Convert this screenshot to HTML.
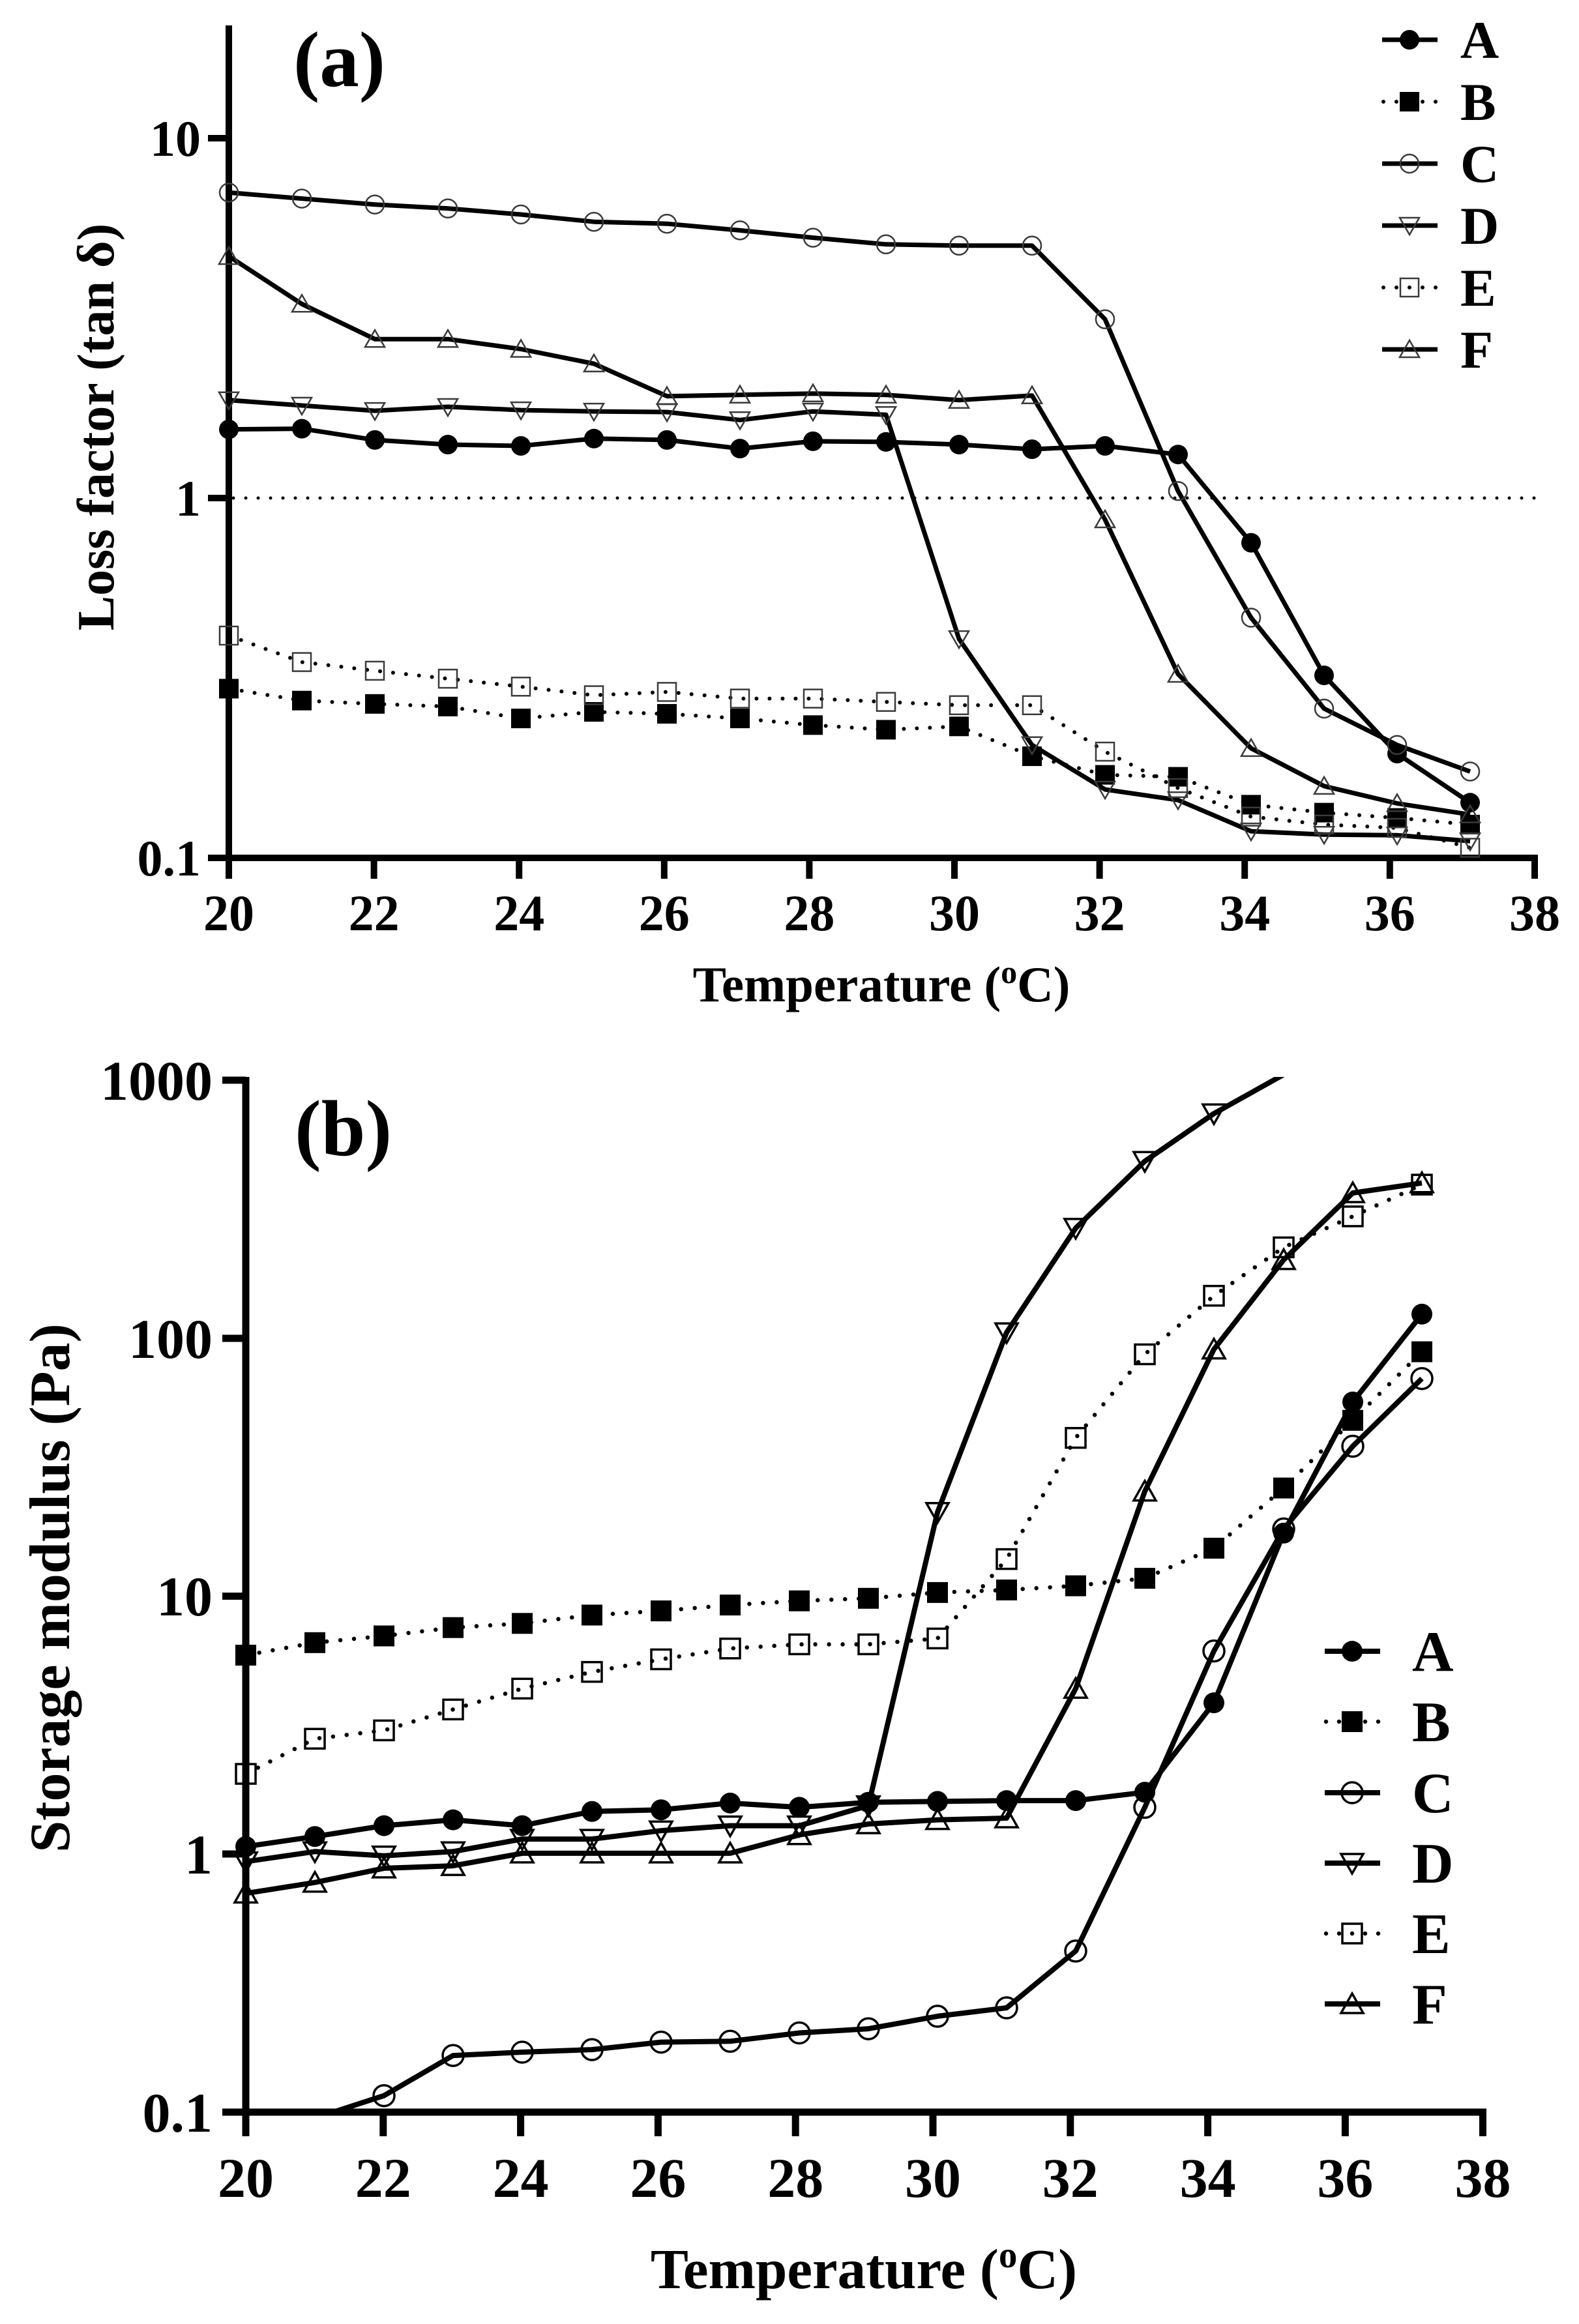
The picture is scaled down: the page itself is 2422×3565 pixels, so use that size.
<!DOCTYPE html>
<html><head><meta charset="utf-8"><style>
html,body{margin:0;padding:0;background:#fff;}
svg{display:block;}
text{font-family:"Liberation Serif","DejaVu Serif",serif;font-weight:bold;fill:#000;}
</style></head><body>
<svg xmlns="http://www.w3.org/2000/svg" xmlns:xlink="http://www.w3.org/1999/xlink" width="2422" height="3565" viewBox="0 0 2422 3565">
<rect width="2422" height="3565" fill="#fff"/>
<defs>
<circle id="pa" r="15" fill="#000"/>
<rect id="pb" x="-15" y="-15" width="30" height="30" fill="#000"/>
<circle id="pc" r="14" fill="none" stroke="#3a3a3a" stroke-width="2.5"/>
<polygon id="pd" points="-15,-12 15,-12 0,14" fill="none" stroke="#3a3a3a" stroke-width="2.5"/>
<rect id="pe" x="-14" y="-14" width="28" height="28" fill="none" stroke="#3a3a3a" stroke-width="2.5"/>
<polygon id="pf" points="-15,12 15,12 0,-14" fill="none" stroke="#3a3a3a" stroke-width="2.5"/>
<circle id="qa" r="16" fill="#000"/>
<rect id="qb" x="-16" y="-16" width="32" height="32" fill="#000"/>
<circle id="qc" r="16" fill="none" stroke="#000" stroke-width="3.5"/>
<polygon id="qd" points="-17,-14 17,-14 0,16" fill="none" stroke="#000" stroke-width="3.5"/>
<rect id="qe" x="-15" y="-15" width="30" height="30" fill="none" stroke="#000" stroke-width="3.5"/>
<polygon id="qf" points="-17,14 17,14 0,-16" fill="none" stroke="#000" stroke-width="3.5"/>
<clipPath id="cb"><rect x="372" y="1652" width="2000" height="1588"/></clipPath>
</defs>

<!-- ================= PANEL A ================= -->
<g stroke="#000" stroke-width="10" fill="none">
<line x1="351" y1="39" x2="351" y2="1348"/>
<line x1="319" y1="1316" x2="2359" y2="1316"/>
<line x1="319" y1="212" x2="351" y2="212"/>
<line x1="319" y1="764" x2="351" y2="764"/>
<line x1="573.6" y1="1316" x2="573.6" y2="1348"/>
<line x1="796.2" y1="1316" x2="796.2" y2="1348"/>
<line x1="1018.8" y1="1316" x2="1018.8" y2="1348"/>
<line x1="1241.4" y1="1316" x2="1241.4" y2="1348"/>
<line x1="1464" y1="1316" x2="1464" y2="1348"/>
<line x1="1686.6" y1="1316" x2="1686.6" y2="1348"/>
<line x1="1909.2" y1="1316" x2="1909.2" y2="1348"/>
<line x1="2131.8" y1="1316" x2="2131.8" y2="1348"/>
<line x1="2354" y1="1316" x2="2354" y2="1348"/>
</g>
<line x1="358" y1="764" x2="2354" y2="764" stroke="#000" stroke-width="5" stroke-dasharray="0 19" stroke-linecap="round"/>

<g font-size="78" text-anchor="end">
<text x="308" y="239">10</text>
<text x="308" y="791">1</text>
<text x="308" y="1343">0.1</text>
</g>
<g font-size="78" text-anchor="middle">
<text x="351" y="1427">20</text>
<text x="573.6" y="1427">22</text>
<text x="796.2" y="1427">24</text>
<text x="1018.8" y="1427">26</text>
<text x="1241.4" y="1427">28</text>
<text x="1464" y="1427">30</text>
<text x="1686.6" y="1427">32</text>
<text x="1909.2" y="1427">34</text>
<text x="2131.8" y="1427">36</text>
<text x="2354" y="1427">38</text>
</g>
<text x="1352" y="1536" font-size="77" text-anchor="middle">Temperature (<tspan font-size="50" dy="-28">o</tspan><tspan dy="28">C)</tspan></text>
<text transform="translate(174,655) rotate(-90)" font-size="80" text-anchor="middle">Loss factor (tan δ)</text>
<text x="450" y="132" font-size="121">(a)</text>

<!-- panel a lines -->
<g fill="none" stroke="#000" stroke-width="7" stroke-linejoin="round">
<polyline points="351,658.6 463,657.6 575,674.9 687,682 799,684 911,672.8 1023,674.9 1135,688.1 1247,676.9 1359,677.9 1471,682 1583,689.1 1695,684 1807,697.2 1919,832.6 2031,1036 2143,1156 2255,1231.3"/>
<polyline points="351,295.4 463,304.6 575,313.7 687,319.8 799,329 911,340.2 1023,343.2 1135,353.4 1247,364.6 1359,374.8 1471,376.8 1583,376.8 1695,489.7 1807,753.2 1919,947.5 2031,1087 2143,1142.8 2255,1183.5"/>
<polyline points="351,613.8 463,622 575,630.1 687,624 799,629.1 911,631.1 1023,632.1 1135,644.3 1247,631.1 1359,636.2 1471,980.1 1583,1142.8 1695,1211 1807,1227.3 1919,1275.1 2031,1280.2 2143,1281.2 2255,1290.3"/>
<polyline points="351,393.1 463,466.3 575,520.2 687,520.2 799,535.5 911,557.9 1023,607.7 1135,605.7 1247,603.7 1359,605.7 1471,613.8 1583,606.7 1695,797 1807,1034 1919,1147.9 2031,1205.9 2143,1232.4 2255,1249.6"/>
</g>
<g fill="none" stroke="#000" stroke-width="6" stroke-dasharray="0 20" stroke-linecap="round">
<polyline points="351,1056.4 463,1074.7 575,1079.8 687,1083.8 799,1102.1 911,1092 1023,1095 1135,1102.1 1247,1112.3 1359,1119.4 1471,1114.3 1583,1160.1 1695,1188.6 1807,1191.6 1919,1234.4 2031,1246.6 2143,1254.7 2255,1264.9"/>
<polyline points="351,975 463,1015.6 575,1028.9 687,1041.1 799,1053.3 911,1066.5 1023,1061.4 1135,1071.6 1247,1071.6 1359,1076.7 1471,1081.8 1583,1081.8 1695,1153 1807,1208.9 1919,1252.7 2031,1264.9 2143,1270 2255,1300.5"/>
</g>

<!-- panel a markers -->
<g>
<use href="#pa" x="351" y="658.6"/><use href="#pa" x="463" y="657.6"/><use href="#pa" x="575" y="674.9"/><use href="#pa" x="687" y="682"/><use href="#pa" x="799" y="684"/><use href="#pa" x="911" y="672.8"/><use href="#pa" x="1023" y="674.9"/><use href="#pa" x="1135" y="688.1"/><use href="#pa" x="1247" y="676.9"/><use href="#pa" x="1359" y="677.9"/><use href="#pa" x="1471" y="682"/><use href="#pa" x="1583" y="689.1"/><use href="#pa" x="1695" y="684"/><use href="#pa" x="1807" y="697.2"/><use href="#pa" x="1919" y="832.6"/><use href="#pa" x="2031" y="1036"/><use href="#pa" x="2143" y="1156"/><use href="#pa" x="2255" y="1231.3"/>

<use href="#pb" x="351" y="1056.4"/><use href="#pb" x="463" y="1074.7"/><use href="#pb" x="575" y="1079.8"/><use href="#pb" x="687" y="1083.8"/><use href="#pb" x="799" y="1102.1"/><use href="#pb" x="911" y="1092"/><use href="#pb" x="1023" y="1095"/><use href="#pb" x="1135" y="1102.1"/><use href="#pb" x="1247" y="1112.3"/><use href="#pb" x="1359" y="1119.4"/><use href="#pb" x="1471" y="1114.3"/><use href="#pb" x="1583" y="1160.1"/><use href="#pb" x="1695" y="1188.6"/><use href="#pb" x="1807" y="1191.6"/><use href="#pb" x="1919" y="1234.4"/><use href="#pb" x="2031" y="1246.6"/><use href="#pb" x="2143" y="1254.7"/><use href="#pb" x="2255" y="1264.9"/>

<use href="#pc" x="351" y="295.4"/><use href="#pc" x="463" y="304.6"/><use href="#pc" x="575" y="313.7"/><use href="#pc" x="687" y="319.8"/><use href="#pc" x="799" y="329"/><use href="#pc" x="911" y="340.2"/><use href="#pc" x="1023" y="343.2"/><use href="#pc" x="1135" y="353.4"/><use href="#pc" x="1247" y="364.6"/><use href="#pc" x="1359" y="374.8"/><use href="#pc" x="1471" y="376.8"/><use href="#pc" x="1583" y="376.8"/><use href="#pc" x="1695" y="489.7"/><use href="#pc" x="1807" y="753.2"/><use href="#pc" x="1919" y="947.5"/><use href="#pc" x="2031" y="1087"/><use href="#pc" x="2143" y="1142.8"/><use href="#pc" x="2255" y="1183.5"/>

<use href="#pd" x="351" y="613.8"/><use href="#pd" x="463" y="622"/><use href="#pd" x="575" y="630.1"/><use href="#pd" x="687" y="624"/><use href="#pd" x="799" y="629.1"/><use href="#pd" x="911" y="631.1"/><use href="#pd" x="1023" y="632.1"/><use href="#pd" x="1135" y="644.3"/><use href="#pd" x="1247" y="631.1"/><use href="#pd" x="1359" y="636.2"/><use href="#pd" x="1471" y="980.1"/><use href="#pd" x="1583" y="1142.8"/><use href="#pd" x="1695" y="1211"/><use href="#pd" x="1807" y="1227.3"/><use href="#pd" x="1919" y="1275.1"/><use href="#pd" x="2031" y="1280.2"/><use href="#pd" x="2143" y="1281.2"/><use href="#pd" x="2255" y="1290.3"/>

<use href="#pe" x="351" y="975"/><use href="#pe" x="463" y="1015.6"/><use href="#pe" x="575" y="1028.9"/><use href="#pe" x="687" y="1041.1"/><use href="#pe" x="799" y="1053.3"/><use href="#pe" x="911" y="1066.5"/><use href="#pe" x="1023" y="1061.4"/><use href="#pe" x="1135" y="1071.6"/><use href="#pe" x="1247" y="1071.6"/><use href="#pe" x="1359" y="1076.7"/><use href="#pe" x="1471" y="1081.8"/><use href="#pe" x="1583" y="1081.8"/><use href="#pe" x="1695" y="1153"/><use href="#pe" x="1807" y="1208.9"/><use href="#pe" x="1919" y="1252.7"/><use href="#pe" x="2031" y="1264.9"/><use href="#pe" x="2143" y="1270"/><use href="#pe" x="2255" y="1300.5"/>

<use href="#pf" x="351" y="393.1"/><use href="#pf" x="463" y="466.3"/><use href="#pf" x="575" y="520.2"/><use href="#pf" x="687" y="520.2"/><use href="#pf" x="799" y="535.5"/><use href="#pf" x="911" y="557.9"/><use href="#pf" x="1023" y="607.7"/><use href="#pf" x="1135" y="605.7"/><use href="#pf" x="1247" y="603.7"/><use href="#pf" x="1359" y="605.7"/><use href="#pf" x="1471" y="613.8"/><use href="#pf" x="1583" y="606.7"/><use href="#pf" x="1695" y="797"/><use href="#pf" x="1807" y="1034"/><use href="#pf" x="1919" y="1147.9"/><use href="#pf" x="2031" y="1205.9"/><use href="#pf" x="2143" y="1232.4"/><use href="#pf" x="2255" y="1249.6"/>
</g>

<!-- panel a legend -->
<g>
<line x1="2120" y1="61" x2="2205" y2="61" stroke="#000" stroke-width="7"/><use href="#pa" x="2162" y="61"/>
<line x1="2122" y1="156" x2="2205" y2="156" stroke="#000" stroke-width="6" stroke-dasharray="0 20" stroke-linecap="round"/><use href="#pb" x="2162" y="156"/>
<line x1="2120" y1="251" x2="2205" y2="251" stroke="#000" stroke-width="7"/><use href="#pc" x="2162" y="251"/>
<line x1="2120" y1="346" x2="2205" y2="346" stroke="#000" stroke-width="7"/><use href="#pd" x="2162" y="346"/>
<line x1="2122" y1="441" x2="2205" y2="441" stroke="#000" stroke-width="6" stroke-dasharray="0 20" stroke-linecap="round"/><use href="#pe" x="2162" y="441"/>
<line x1="2120" y1="536" x2="2205" y2="536" stroke="#000" stroke-width="7"/><use href="#pf" x="2162" y="536"/>
</g>
<g font-size="82">
<text x="2240" y="89">A</text>
<text x="2240" y="184">B</text>
<text x="2240" y="279">C</text>
<text x="2240" y="374">D</text>
<text x="2240" y="469">E</text>
<text x="2240" y="564">F</text>
</g>

<!-- ================= PANEL B ================= -->
<g stroke="#000" stroke-width="11" fill="none">
<line x1="377" y1="1652" x2="377" y2="3277"/>
<line x1="341" y1="3240" x2="2280" y2="3240"/>
<line x1="341" y1="1657" x2="377" y2="1657"/>
<line x1="341" y1="2053" x2="377" y2="2053"/>
<line x1="341" y1="2448.5" x2="377" y2="2448.5"/>
<line x1="341" y1="2844" x2="377" y2="2844"/>
<line x1="587.8" y1="3240" x2="587.8" y2="3277"/>
<line x1="798.6" y1="3240" x2="798.6" y2="3277"/>
<line x1="1009.4" y1="3240" x2="1009.4" y2="3277"/>
<line x1="1220.2" y1="3240" x2="1220.2" y2="3277"/>
<line x1="1431" y1="3240" x2="1431" y2="3277"/>
<line x1="1641.8" y1="3240" x2="1641.8" y2="3277"/>
<line x1="1852.6" y1="3240" x2="1852.6" y2="3277"/>
<line x1="2063.4" y1="3240" x2="2063.4" y2="3277"/>
<line x1="2274.5" y1="3240" x2="2274.5" y2="3277"/>
</g>
<g font-size="86" text-anchor="end">
<text x="326" y="1687">1000</text>
<text x="326" y="2083">100</text>
<text x="326" y="2478">10</text>
<text x="326" y="2874">1</text>
<text x="326" y="3270">0.1</text>
</g>
<g font-size="86" text-anchor="middle">
<text x="377" y="3370">20</text>
<text x="587.8" y="3370">22</text>
<text x="798.6" y="3370">24</text>
<text x="1009.4" y="3370">26</text>
<text x="1220.2" y="3370">28</text>
<text x="1431" y="3370">30</text>
<text x="1641.8" y="3370">32</text>
<text x="1852.6" y="3370">34</text>
<text x="2063.4" y="3370">36</text>
<text x="2274.5" y="3370">38</text>
</g>
<text x="1325" y="3510" font-size="87" text-anchor="middle">Temperature (<tspan font-size="57" dy="-32">o</tspan><tspan dy="32">C)</tspan></text>
<text transform="translate(106,2436) rotate(-90)" font-size="88" text-anchor="middle">Storage modulus (Pa)</text>
<text x="452" y="1772" font-size="122">(b)</text>

<!-- panel b lines -->
<g fill="none" stroke="#000" stroke-width="8" stroke-linejoin="round" clip-path="url(#cb)">
<polyline points="377,2832.6 483,2817.2 589,2800.6 695,2791.6 801,2800.6 908,2778.8 1014,2776.2 1120,2765.9 1226,2772.4 1332,2764.7 1438,2763.4 1544,2762.1 1650,2762.1 1756,2749.3 1862,2612.1 1969,2351.8 2075,2150.6 2181,2015.9"/>
<polyline points="377,3262 483,3249.1 589,3214.7 695,3153.1 801,3148 908,3144.1 1014,3132.6 1120,3131.3 1226,3118.5 1332,3112.1 1438,3092.9 1544,3080 1650,2992.9 1756,2772.4 1862,2532.6 1969,2345.4 2075,2218.5 2181,2114.7"/>
<polyline points="377,2855.7 483,2840.3 589,2846.7 695,2840.3 801,2821.1 908,2821.1 1014,2808.2 1120,2800.6 1226,2800.6 1332,2769.8 1438,2319.8 1544,2044.1 1650,1883.9 1756,1781.3 1862,1708.2 1975,1645"/>
<polyline points="377,2904.4 483,2887.7 589,2865.9 695,2862.1 801,2842.9 908,2842.9 1014,2842.9 1120,2842.9 1226,2814.7 1332,2798 1438,2791.6 1544,2789 1650,2590.3 1756,2287.7 1862,2069.8 1969,1932.6 2075,1830 2181,1814.7"/>
</g>
<g fill="none" stroke="#000" stroke-width="6.5" stroke-dasharray="0 21" stroke-linecap="round">
<polyline points="377,2539 483,2519.8 589,2509.5 695,2496.7 801,2490.3 908,2477.5 1014,2471.1 1120,2462.1 1226,2455.7 1332,2451.8 1438,2442.9 1544,2439 1650,2432.6 1756,2421.1 1862,2374.9 1969,2282.6 2075,2178.8 2181,2073.6"/>
<polyline points="377,2721.1 483,2667.2 589,2654.4 695,2622.3 801,2590.3 908,2564.7 1014,2545.4 1120,2528.8 1226,2522.4 1332,2522.4 1438,2513.4 1544,2391.6 1650,2205.7 1756,2077.5 1862,1987.7 1969,1913.4 2075,1865.9 2181,1817.2"/>
</g>

<!-- panel b markers -->
<g>
<use href="#qa" x="377" y="2832.6"/><use href="#qa" x="483" y="2817.2"/><use href="#qa" x="589" y="2800.6"/><use href="#qa" x="695" y="2791.6"/><use href="#qa" x="801" y="2800.6"/><use href="#qa" x="908" y="2778.8"/><use href="#qa" x="1014" y="2776.2"/><use href="#qa" x="1120" y="2765.9"/><use href="#qa" x="1226" y="2772.4"/><use href="#qa" x="1332" y="2764.7"/><use href="#qa" x="1438" y="2763.4"/><use href="#qa" x="1544" y="2762.1"/><use href="#qa" x="1650" y="2762.1"/><use href="#qa" x="1756" y="2749.3"/><use href="#qa" x="1862" y="2612.1"/><use href="#qa" x="1969" y="2351.8"/><use href="#qa" x="2075" y="2150.6"/><use href="#qa" x="2181" y="2015.9"/>

<use href="#qb" x="377" y="2539"/><use href="#qb" x="483" y="2519.8"/><use href="#qb" x="589" y="2509.5"/><use href="#qb" x="695" y="2496.7"/><use href="#qb" x="801" y="2490.3"/><use href="#qb" x="908" y="2477.5"/><use href="#qb" x="1014" y="2471.1"/><use href="#qb" x="1120" y="2462.1"/><use href="#qb" x="1226" y="2455.7"/><use href="#qb" x="1332" y="2451.8"/><use href="#qb" x="1438" y="2442.9"/><use href="#qb" x="1544" y="2439"/><use href="#qb" x="1650" y="2432.6"/><use href="#qb" x="1756" y="2421.1"/><use href="#qb" x="1862" y="2374.9"/><use href="#qb" x="1969" y="2282.6"/><use href="#qb" x="2075" y="2178.8"/><use href="#qb" x="2181" y="2073.6"/>

<use href="#qc" x="589" y="3214.7"/><use href="#qc" x="695" y="3153.1"/><use href="#qc" x="801" y="3148"/><use href="#qc" x="908" y="3144.1"/><use href="#qc" x="1014" y="3132.6"/><use href="#qc" x="1120" y="3131.3"/><use href="#qc" x="1226" y="3118.5"/><use href="#qc" x="1332" y="3112.1"/><use href="#qc" x="1438" y="3092.9"/><use href="#qc" x="1544" y="3080"/><use href="#qc" x="1650" y="2992.9"/><use href="#qc" x="1756" y="2772.4"/><use href="#qc" x="1862" y="2532.6"/><use href="#qc" x="1969" y="2345.4"/><use href="#qc" x="2075" y="2218.5"/><use href="#qc" x="2181" y="2114.7"/>

<use href="#qd" x="377" y="2855.7"/><use href="#qd" x="483" y="2840.3"/><use href="#qd" x="589" y="2846.7"/><use href="#qd" x="695" y="2840.3"/><use href="#qd" x="801" y="2821.1"/><use href="#qd" x="908" y="2821.1"/><use href="#qd" x="1014" y="2808.2"/><use href="#qd" x="1120" y="2800.6"/><use href="#qd" x="1226" y="2800.6"/><use href="#qd" x="1332" y="2769.8"/><use href="#qd" x="1438" y="2319.8"/><use href="#qd" x="1544" y="2044.1"/><use href="#qd" x="1650" y="1883.9"/><use href="#qd" x="1756" y="1781.3"/><use href="#qd" x="1862" y="1708.2"/>

<use href="#qe" x="377" y="2721.1"/><use href="#qe" x="483" y="2667.2"/><use href="#qe" x="589" y="2654.4"/><use href="#qe" x="695" y="2622.3"/><use href="#qe" x="801" y="2590.3"/><use href="#qe" x="908" y="2564.7"/><use href="#qe" x="1014" y="2545.4"/><use href="#qe" x="1120" y="2528.8"/><use href="#qe" x="1226" y="2522.4"/><use href="#qe" x="1332" y="2522.4"/><use href="#qe" x="1438" y="2513.4"/><use href="#qe" x="1544" y="2391.6"/><use href="#qe" x="1650" y="2205.7"/><use href="#qe" x="1756" y="2077.5"/><use href="#qe" x="1862" y="1987.7"/><use href="#qe" x="1969" y="1913.4"/><use href="#qe" x="2075" y="1865.9"/><use href="#qe" x="2181" y="1817.2"/>

<use href="#qf" x="377" y="2904.4"/><use href="#qf" x="483" y="2887.7"/><use href="#qf" x="589" y="2865.9"/><use href="#qf" x="695" y="2862.1"/><use href="#qf" x="801" y="2842.9"/><use href="#qf" x="908" y="2842.9"/><use href="#qf" x="1014" y="2842.9"/><use href="#qf" x="1120" y="2842.9"/><use href="#qf" x="1226" y="2814.7"/><use href="#qf" x="1332" y="2798"/><use href="#qf" x="1438" y="2791.6"/><use href="#qf" x="1544" y="2789"/><use href="#qf" x="1650" y="2590.3"/><use href="#qf" x="1756" y="2287.7"/><use href="#qf" x="1862" y="2069.8"/><use href="#qf" x="1969" y="1932.6"/><use href="#qf" x="2075" y="1830"/><use href="#qf" x="2181" y="1814.7"/>
</g>

<!-- panel b legend -->
<g>
<line x1="2032" y1="2533" x2="2117" y2="2533" stroke="#000" stroke-width="8"/><use href="#qa" x="2074" y="2533"/>
<line x1="2034" y1="2641" x2="2117" y2="2641" stroke="#000" stroke-width="6.5" stroke-dasharray="0 20" stroke-linecap="round"/><use href="#qb" x="2074" y="2641"/>
<line x1="2032" y1="2750" x2="2117" y2="2750" stroke="#000" stroke-width="8"/><use href="#qc" x="2074" y="2750"/>
<line x1="2032" y1="2858" x2="2117" y2="2858" stroke="#000" stroke-width="8"/><use href="#qd" x="2074" y="2858"/>
<line x1="2034" y1="2966" x2="2117" y2="2966" stroke="#000" stroke-width="6.5" stroke-dasharray="0 20" stroke-linecap="round"/><use href="#qe" x="2074" y="2966"/>
<line x1="2032" y1="3074" x2="2117" y2="3074" stroke="#000" stroke-width="8"/><use href="#qf" x="2074" y="3074"/>
</g>
<g font-size="88">
<text x="2166" y="2563">A</text>
<text x="2166" y="2671">B</text>
<text x="2166" y="2780">C</text>
<text x="2166" y="2888">D</text>
<text x="2166" y="2996">E</text>
<text x="2166" y="3104">F</text>
</g>
</svg>
</body></html>
